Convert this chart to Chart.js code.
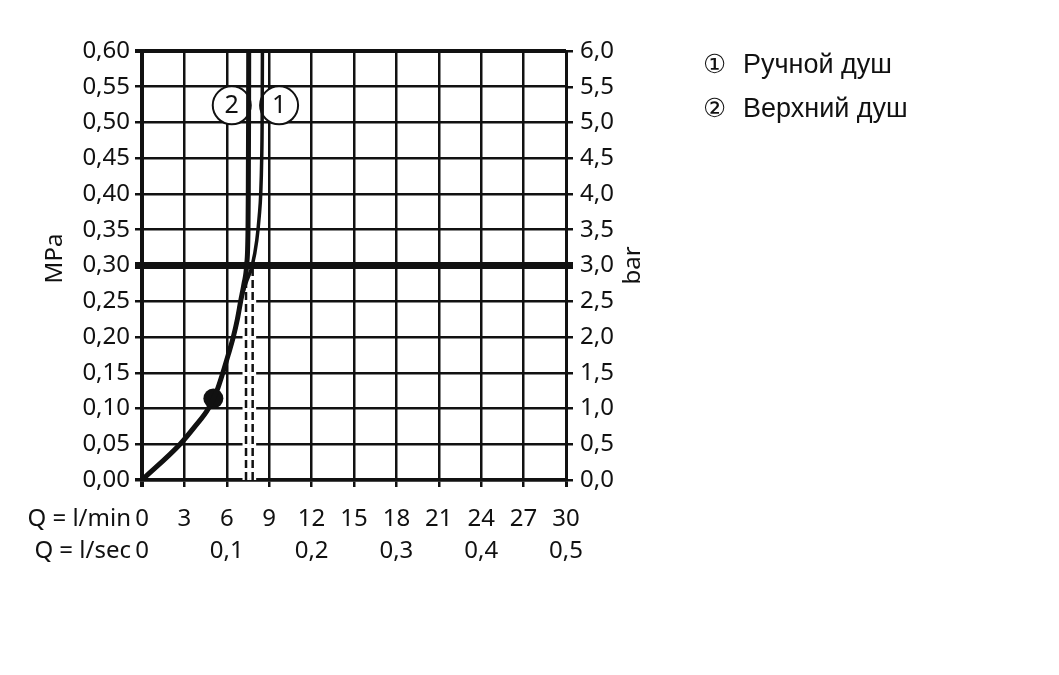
<!DOCTYPE html>
<html>
<head>
<meta charset="utf-8">
<script src="https://cdn.jsdelivr.net/npm/chart.js@4.4.0/dist/chart.umd.min.js"></script>
<style>
body { margin: 0; background: #fff; }
#wrap { position: relative; width: 1059px; height: 675px; }
#legend { position: absolute; left: 703px; top: 42px; font-family: "Liberation Sans", Arial, sans-serif; font-size: 27px; color: #111; line-height: 44px; }
#legend .n { display: inline-block; width: 40px; font-family: "DejaVu Sans", "Noto Sans CJK SC", sans-serif; font-size: 26px; }
</style>
</head>
<body>
<div id="wrap">
  <canvas id="myChart" width="1059" height="675"></canvas>
  <div id="legend"></div>
</div>
<script>
// ticks
var flowTicks = [0, 3, 6, 9, 12, 15, 18, 21, 24, 27, 30];        // l/min
var secTicks = [0, 0.1, 0.2, 0.3, 0.4, 0.5];                      // l/sec
var mpaTicks = [0, 0.05, 0.10, 0.15, 0.20, 0.25, 0.30, 0.35, 0.40, 0.45, 0.50, 0.55, 0.60];
var barTicks = [0, 0.5, 1, 1.5, 2, 2.5, 3, 3.5, 4, 4.5, 5, 5.5, 6];

// curva 2 - Верхний душ (gruesa)
var flowTop = [0, 2.69, 3.75, 4.7, 5.3, 5.72, 6.1, 6.46, 6.75, 6.98, 7.22, 7.4, 7.5, 7.52, 7.54, 7.55];
var pressTop = [0, 0.05, 0.075, 0.10, 0.125, 0.15, 0.175, 0.20, 0.225, 0.25, 0.275, 0.30, 0.35, 0.40, 0.50, 0.60];

// curva 1 - Ручной душ
var flowHand = [0, 2.69, 3.75, 4.7, 5.3, 5.72, 6.1, 6.46, 6.75, 6.98, 7.35, 7.8, 8.12, 8.3, 8.4, 8.47, 8.5, 8.52];
var pressHand = [0, 0.05, 0.075, 0.10, 0.125, 0.15, 0.175, 0.20, 0.225, 0.25, 0.275, 0.30, 0.335, 0.37, 0.40, 0.45, 0.50, 0.60];

// caudal a 3 bar (lineas punteadas)
var ratedFlow = [7.83, 7.36];
var ratedPress = 0.30;

// punto de funcionamiento
var dotFlow = [5.05];
var dotPress = [0.114];

// circulos con numero
var markFlow = [9.7, 6.35];
var markPress = [0.524, 0.524];
var markText = ['1', '2'];

// leyenda
var legendMarks = ['\u2460', '\u2461'];
var legendNames = ['Ручной душ', 'Верхний душ'];

var tickFont = { family: 'Noto Sans', size: 24 };

function pts(xs, ys) {
    var out = [];
    for (var i = 0; i < xs.length; i++) out.push({ x: xs[i], y: ys[i] });
    return out;
}
function near(a, b) { return Math.abs(a - b) < 1e-6; }

// leyenda html
var leg = document.getElementById('legend');
for (var i = 0; i < legendNames.length; i++) {
    var d = document.createElement('div');
    d.innerHTML = '<span class="n">' + legendMarks[i] + '</span>' + legendNames[i];
    leg.appendChild(d);
}

var datasets = [
    { data: pts(flowTop, pressTop), borderColor: '#111', borderWidth: 5, cubicInterpolationMode: 'monotone', pointRadius: 0 },
    { data: pts(flowHand, pressHand), borderColor: '#111', borderWidth: 3.5, cubicInterpolationMode: 'monotone', pointRadius: 0 },
    { data: pts(dotFlow, dotPress), showLine: false, pointRadius: 10, pointBackgroundColor: '#111', pointBorderWidth: 0 },
    { data: [{ x: 0, y: ratedPress }, { x: 30, y: ratedPress }], borderColor: '#111', borderWidth: 7, pointRadius: 0 },
    { data: pts(markFlow, markPress), showLine: false, pointRadius: 19, pointBackgroundColor: '#fff', pointBorderColor: '#111', pointBorderWidth: 2 }
];
// punteadas
for (var k = 0; k < ratedFlow.length; k++) {
    datasets.push({ data: [{ x: ratedFlow[k], y: 0 }, { x: ratedFlow[k], y: ratedPress }], borderColor: '#111', borderWidth: 2.5, borderDash: [8, 4], pointRadius: 0 });
}
// fondo blanco de las punteadas
for (var k = 0; k < ratedFlow.length; k++) {
    datasets.push({ data: [{ x: ratedFlow[k], y: 0 }, { x: ratedFlow[k], y: ratedPress }], borderColor: '#fff', borderWidth: 7, pointRadius: 0 });
}

var extraText = {
    id: 'extraText',
    afterDraw: function (chart) {
        var c = chart.ctx, a = chart.chartArea;
        var sx = chart.scales.x, sy = chart.scales.y;
        c.save();
        c.fillStyle = '#111';
        c.font = '24px "Noto Sans"';
        c.textBaseline = 'middle';
        c.textAlign = 'right';
        c.fillText('Q = l/min', a.left - 11, sx.top + 39);
        c.fillText('Q = l/sec', a.left - 11, chart.scales.x2.top + 16);

        c.textAlign = 'center';
        var mid = (a.top + a.bottom) / 2;
        c.save();
        c.translate(a.left - 87, mid - 7);
        c.rotate(-Math.PI / 2);
        c.fillText('MPa', 0, 0);
        c.restore();
        c.save();
        c.translate(a.right + 67, mid);
        c.rotate(-Math.PI / 2);
        c.fillText('bar', 0, 0);
        c.restore();

        // numeros dentro de los circulos
        c.font = '25px "Noto Sans"';
        for (var i = 0; i < markText.length; i++) {
            c.fillText(markText[i], sx.getPixelForValue(markFlow[i]), sy.getPixelForValue(markPress[i]) + 1);
        }
        c.restore();
    }
};

new Chart(document.getElementById('myChart'), {
    type: 'line',
    data: { datasets: datasets },
    plugins: [extraText],
    options: {
        responsive: false,
        animation: false,
        layout: { padding: { top: 51 } },
        plugins: { legend: { display: false }, tooltip: { enabled: false } },
        scales: {
            x: {
                type: 'linear', position: 'bottom', min: 0, max: 30, weight: 0,
                afterBuildTicks: function (s) { s.ticks = flowTicks.map(function (v) { return { value: v }; }); },
                afterFit: function (s) { s.height = 55; },
                ticks: { color: '#111', font: tickFont, padding: 18, maxRotation: 0, callback: function (v) { return String(v); } },
                grid: { color: '#111', tickLength: 7, lineWidth: function (ctx) { var v = ctx.tick && ctx.tick.value; return v === 0 ? 4 : (v === 30 ? 3 : 2.5); } },
                border: { color: '#111', width: 3.5 }
            },
            x2: {
                type: 'linear', position: 'bottom', min: 0, max: 0.5, weight: 1,
                afterBuildTicks: function (s) { s.ticks = secTicks.map(function (v) { return { value: v }; }); },
                afterFit: function (s) { s.height = 140; },
                ticks: { color: '#111', font: tickFont, padding: 2, maxRotation: 0, callback: function (v) { return v === 0 ? '0' : v.toFixed(1).replace('.', ','); } },
                grid: { display: false, drawTicks: false },
                border: { display: false }
            },
            y: {
                type: 'linear', position: 'left', min: 0, max: 0.6,
                afterBuildTicks: function (s) { s.ticks = mpaTicks.map(function (v) { return { value: v }; }); },
                afterFit: function (s) { s.width = 142; },
                ticks: { color: '#111', font: tickFont, padding: 5, callback: function (v) { return v.toFixed(2).replace('.', ','); } },
                grid: { color: '#111', tickLength: 7, lineWidth: function (ctx) { var v = ctx.tick && ctx.tick.value; if (v === undefined) return 2.5; if (near(v, 0.6)) return 4; if (near(v, 0.3)) return 7; if (near(v, 0)) return 3.5; return 2.5; } },
                border: { color: '#111', width: 4 }
            },
            y2: {
                type: 'linear', position: 'right', min: 0, max: 6,
                afterBuildTicks: function (s) { s.ticks = barTicks.map(function (v) { return { value: v }; }); },
                afterFit: function (s) { s.width = 493; },
                ticks: { color: '#111', font: tickFont, padding: 7, callback: function (v) { return v.toFixed(1).replace('.', ','); } },
                grid: { color: '#111', drawOnChartArea: false, tickLength: 7, lineWidth: function (ctx) { var v = ctx.tick && ctx.tick.value; return (v !== undefined && near(v, 3)) ? 7 : 2.5; } },
                border: { color: '#111', width: 3 }
            }
        }
    }
});
</script>
</body>
</html>
